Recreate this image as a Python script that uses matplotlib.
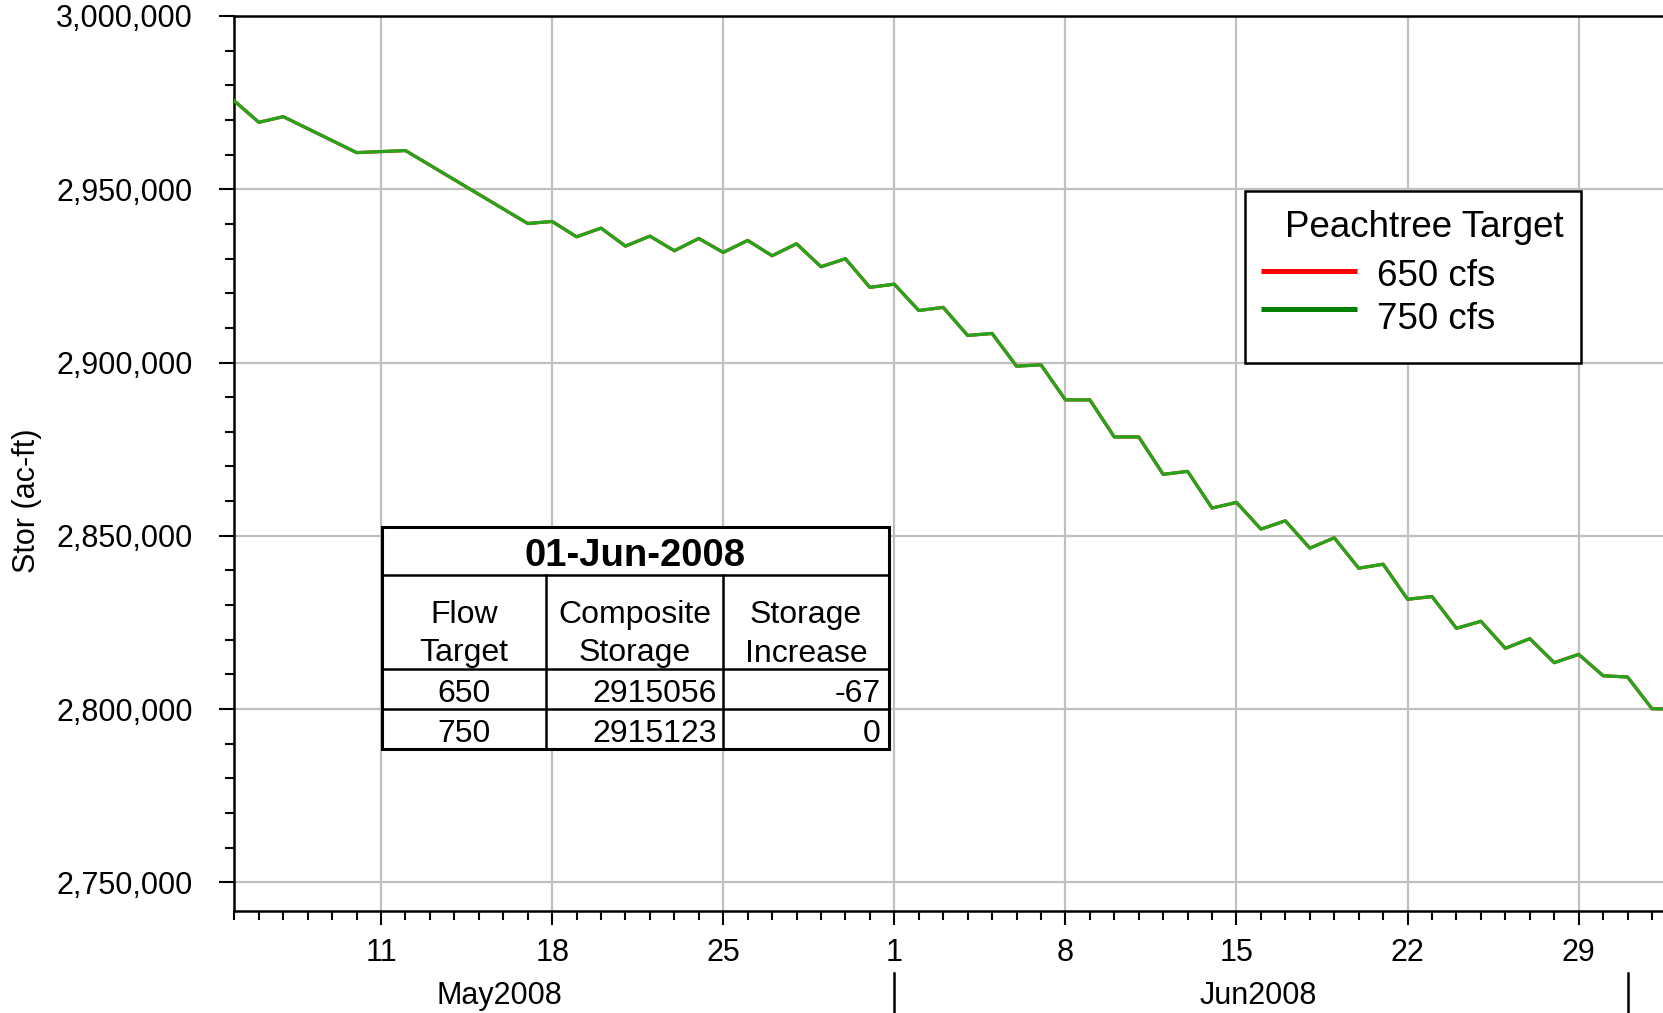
import matplotlib
matplotlib.use("Agg")
import matplotlib.pyplot as plt
import matplotlib.dates as mdates
from matplotlib.patches import Rectangle
from matplotlib.lines import Line2D
from matplotlib.transforms import blended_transform_factory
from matplotlib.ticker import MultipleLocator, FuncFormatter
import numpy as np
import datetime as dt

plt.rcParams['font.family'] = ['Liberation Sans', 'DejaVu Sans']

# ---------------- data ----------------
dates = ["2008-05-05", "2008-05-06", "2008-05-07", "2008-05-10", "2008-05-12",
         "2008-05-17", "2008-05-18", "2008-05-19", "2008-05-20", "2008-05-21",
         "2008-05-22", "2008-05-23", "2008-05-24", "2008-05-25", "2008-05-26",
         "2008-05-27", "2008-05-28", "2008-05-29", "2008-05-30", "2008-05-31",
         "2008-06-01", "2008-06-02", "2008-06-03", "2008-06-04", "2008-06-05",
         "2008-06-06", "2008-06-07", "2008-06-08", "2008-06-09", "2008-06-10",
         "2008-06-11", "2008-06-12", "2008-06-13", "2008-06-14", "2008-06-15",
         "2008-06-16", "2008-06-17", "2008-06-18", "2008-06-19", "2008-06-20",
         "2008-06-21", "2008-06-22", "2008-06-23", "2008-06-24", "2008-06-25",
         "2008-06-26", "2008-06-27", "2008-06-28", "2008-06-29", "2008-06-30",
         "2008-07-01", "2008-07-02", "2008-07-03"]

storage_750 = [2975440, 2969300, 2970930, 2960560, 2961140,
               2940110, 2940690, 2936270, 2938770, 2933580,
               2936460, 2932240, 2935790, 2931760, 2935220,
               2930800, 2934260, 2927630, 2929940, 2921680,
               2922600, 2915000, 2915900, 2907800, 2908380,
               2898940, 2899330, 2889210, 2889210, 2878520,
               2878520, 2867730, 2868590, 2858000, 2859630,
               2851930, 2854330, 2846440, 2849420, 2840650,
               2841810, 2831690, 2832470, 2823310, 2825340,
               2817530, 2820330, 2813390, 2815800, 2809630,
               2809250, 2800100, 2800000]
# 650 cfs run lies under the 750 cfs line (differences of tens of ac-ft)
storage_650 = list(storage_750)

series_labels = ["650 cfs", "750 cfs"]
legend_title = "Peachtree Target"

table_title = "01-Jun-2008"
table_header = [("Flow", "Target"), ("Composite", "Storage"), ("Storage", "Increase")]
table_rows = [("650", "2915056", "-67"), ("750", "2915123", "0")]

y_label = "Stor (ac-ft)"
month_labels = [("2008-05-15 20:00", "May2008"), ("2008-06-15 21:00", "Jun2008")]
month_bounds = ["2008-06-01", "2008-07-01"]

# ---------------- figure ----------------
W, H = 1663, 1013
fig = plt.figure(figsize=(W / 100, H / 100), dpi=100)

def fx(px):
    return px / W

def fy(py):
    return 1 - py / H

left, right, top, bottom = 234.4, 1663, 15.9, 911
ax = fig.add_axes([fx(left), fy(bottom), fx(right) - fx(left), fy(top) - fy(bottom)])

x = [dt.datetime.strptime(d, "%Y-%m-%d") for d in dates]
ax.plot(x, storage_650, color="#ff0000", lw=2.3, zorder=3)
ax.plot(x, storage_750, color="#22a61a", lw=2.3, zorder=4)

x0 = dt.datetime(2008, 5, 5)
ax.set_xlim(x0, x0 + dt.timedelta(days=58.45))
ax.set_ylim(2741750, 3000000)

ax.xaxis.set_major_locator(mdates.WeekdayLocator(byweekday=mdates.SU))
ax.xaxis.set_minor_locator(mdates.DayLocator())
ax.xaxis.set_major_formatter(mdates.DateFormatter("%-d"))
ax.yaxis.set_major_locator(MultipleLocator(50000))
ax.yaxis.set_minor_locator(MultipleLocator(10000))
ax.yaxis.set_major_formatter(FuncFormatter(lambda v, p: f"{int(round(v)):,}"))

ax.grid(True, which="major", color="#c0c0c0", lw=1.6, zorder=0)
ax.set_axisbelow(True)

for s in ["left", "bottom", "top"]:
    ax.spines[s].set_linewidth(1.8)
    ax.spines[s].set_color("black")
ax.spines["right"].set_visible(False)

ax.tick_params(axis="y", which="major", length=10.8, width=1.5, pad=19, labelsize=22)
ax.tick_params(axis="y", which="minor", length=6.5, width=1.5)
ax.tick_params(axis="x", which="major", length=10, width=1.5, pad=9.5, labelsize=22)
ax.tick_params(axis="x", which="minor", length=6.5, width=1.5)

fig.text(fx(26.5), fy(500.6), y_label, rotation=90, ha="center", va="center", fontsize=22)

# month labels and separators
bt = blended_transform_factory(ax.transData, fig.transFigure)
for d, lab in month_labels:
    xd = mdates.date2num(dt.datetime.strptime(d, "%Y-%m-%d %H:%M"))
    ax.text(xd, fy(1004), lab, transform=bt, ha="center", va="baseline",
            fontsize=22, clip_on=False)
for d in month_bounds:
    xd = mdates.date2num(dt.datetime.strptime(d, "%Y-%m-%d"))
    ax.add_line(Line2D([xd, xd], [fy(973), fy(1013)], transform=bt, color="black",
                       lw=1.8, clip_on=False))

# ---------------- legend (drawn box) ----------------
fig.add_artist(Rectangle((fx(1245), fy(363)), fx(1581) - fx(1245), fy(191) - fy(363),
                         transform=fig.transFigure, facecolor="white", edgecolor="black",
                         lw=1.8, zorder=5))
fig.text(fx(1424), fy(236.7), legend_title, ha="center", va="baseline", fontsize=26.5, zorder=6)
for lab, col, ly, tb in [(series_labels[0], "#ff0000", 270.7, 286),
                         (series_labels[1], "#008000", 309, 329)]:
    fig.add_artist(Line2D([fx(1261), fx(1357)], [fy(ly), fy(ly)], transform=fig.transFigure,
                          color=col, lw=3.6, solid_capstyle="butt", zorder=6))
    fig.text(fx(1377), fy(tb), lab, ha="left", va="baseline", fontsize=26.5, zorder=6)

# ---------------- table (drawn) ----------------
tl, tr, tt, tbm = 381.8, 889, 527.3, 749.3
fig.add_artist(Rectangle((fx(tl), fy(tbm)), fx(tr) - fx(tl), fy(tt) - fy(tbm),
                         transform=fig.transFigure, facecolor="white", edgecolor="black",
                         lw=2.2, zorder=5))
for hy in [575, 669.3, 709.3]:
    fig.add_artist(Line2D([fx(tl), fx(tr)], [fy(hy), fy(hy)], transform=fig.transFigure,
                          color="black", lw=1.8, zorder=6))
for vx in [545.8, 723.3]:
    fig.add_artist(Line2D([fx(vx), fx(vx)], [fy(575), fy(tbm)], transform=fig.transFigure,
                          color="black", lw=1.8, zorder=6))
fig.text(fx((tl + tr) / 2), fy(566.5), table_title, ha="center", va="baseline",
         fontsize=27.5, fontweight="bold", zorder=7)
col_centers = [463.8, 634.5, 806]
for cx, (l1, l2) in zip(col_centers, table_header):
    fig.text(fx(cx), fy(623), l1, ha="center", va="baseline", fontsize=23, zorder=7)
    fig.text(fx(cx), fy(661.5), l2, ha="center", va="baseline", fontsize=23, zorder=7)
for by, (a, b, c) in zip([702.5, 742], table_rows):
    fig.text(fx(463.8), fy(by), a, ha="center", va="baseline", fontsize=23, zorder=7)
    fig.text(fx(717), fy(by), b, ha="right", va="baseline", fontsize=23, zorder=7)
    fig.text(fx(881), fy(by), c, ha="right", va="baseline", fontsize=23, zorder=7)

fig.savefig("out.png", dpi=100)
